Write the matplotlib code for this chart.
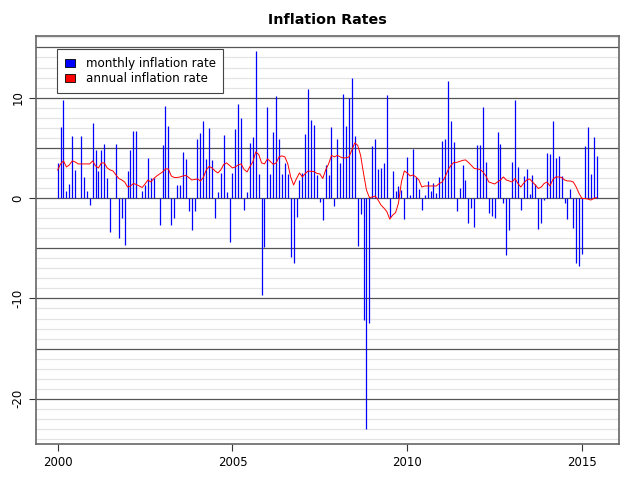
import numpy as np
import matplotlib
matplotlib.use("Agg")
import matplotlib.pyplot as plt
from matplotlib.patches import Patch

plt.rcParams['axes.unicode_minus'] = False

# monthly data, Jan 2000 .. Jun 2015
start_year = 2000
monthly = [
    3.5, 7.1, 9.8, 0.7, 1.4, 6.2, 2.8, 0.0, 6.2, 2.1, 0.7, -0.7,
    7.5, 4.75, 2.7, 4.75, 5.4, 2.0, -3.4, 0.0, 5.4, -4.0, -2.0, -4.7,
    2.7, 4.75, 6.7, 6.7, 0.0, 0.7, 1.3, 4.0, 1.95, 1.95, 0.0, -2.7,
    5.25, 9.2, 7.2, -2.65, -2.0, 1.3, 1.3, 4.55, 3.9, -1.3, -3.2, -1.3,
    5.85, 6.5, 7.7, 3.85, 7.0, 3.75, -1.95, 0.6, 2.5, 6.3, 0.6, -4.4,
    2.5, 6.9, 9.4, 8.0, -1.2, 0.6, 5.5, 6.1, 14.6, 2.4, -9.7, -4.85,
    9.1, 2.4, 6.6, 10.2, 5.9, 2.4, 3.5, 2.4, -5.9, -6.5, -1.85, 1.8,
    2.5, 6.4, 10.9, 7.8, 7.3, 2.3, -0.4, -2.2, 3.3, 2.3, 7.1, -0.8,
    5.9, 3.5, 10.4, 7.2, 10.0, 12.0, 6.2, -4.75, -1.6, -12.1, -23.0, -12.4,
    5.2, 5.9, 2.9, 3.0, 3.5, 10.3, -1.85, 2.7, 0.75, 1.2, 0.8, -2.1,
    4.05, 0.3, 4.9, 2.1, 0.9, -1.2, 0.3, 1.65, 0.7, 1.5, 0.5, 2.1,
    5.7, 5.9, 11.65, 7.7, 5.6, -1.3, 1.05, 3.3, 1.8, -2.5, -1.0, -2.9,
    5.25, 5.25, 9.1, 3.6, -1.45, -1.8, -1.95, 6.6, 5.35, -0.45, -5.7, -3.2,
    3.55, 9.8, 3.1, -1.2, 2.2, 2.9, 0.45, 2.3, 1.4, -3.1, -2.45, -0.2,
    4.45, 4.4, 7.7, 3.95, 4.15, 2.2, -0.5, -2.05, 0.9, -3.0, -6.5, -6.8,
    -5.6, 5.2, 7.1, 2.4, 6.1, 4.2,
]
annual = [
    2.8, 3.4, 3.7, 3.1, 3.3, 3.7, 3.6, 3.4, 3.4, 3.4, 3.4, 3.4,
    3.7, 3.2, 3.0, 3.5, 3.5, 3.0, 2.8, 2.7, 2.3, 1.95, 1.8, 1.6,
    1.1, 1.2, 1.45, 1.35, 1.2, 1.05, 1.4, 1.8, 1.6, 1.95, 2.2, 2.4,
    2.6, 2.9, 2.9, 2.2, 2.05, 2.05, 2.1, 2.2, 2.25, 2.05, 1.8, 1.85,
    1.9, 1.7, 2.05, 2.8, 3.15, 3.0, 2.7, 2.5, 2.8, 3.35, 3.5, 3.25,
    3.0, 3.1, 3.3, 3.4, 2.85, 2.6, 3.15, 3.6, 4.6, 4.35, 3.5, 3.4,
    3.9, 3.65, 3.35, 3.5, 4.1, 4.2, 4.1, 3.4, 2.1, 1.3, 1.95, 2.5,
    2.1, 2.45, 2.7, 2.65, 2.65, 2.45, 2.4, 1.95, 2.8, 3.4, 4.25, 4.1,
    4.25, 4.1, 4.0, 4.0, 4.1, 4.8, 5.5, 5.25, 4.25, 2.45, 0.8, 0.05,
    0.1, 0.2, -0.2, -0.7, -1.0, -1.35, -2.1, -1.7, -1.45, -0.5, 1.6, 2.7,
    2.5, 2.2, 2.3, 2.1, 1.8, 1.1, 1.2, 1.2, 1.2, 1.2, 1.2, 1.45,
    1.6, 2.1, 2.8, 3.25, 3.55, 3.55, 3.65, 3.75, 3.8, 3.55, 3.25, 2.95,
    2.9, 2.85, 2.6, 2.2, 1.6, 1.5, 1.4, 1.6, 1.8, 2.1, 1.8, 1.7,
    1.6, 1.95, 1.45, 1.1, 1.5, 1.8, 1.9, 1.6, 1.3, 0.95, 1.1, 1.45,
    1.6, 1.2, 1.85, 2.1, 2.1, 2.05, 1.8, 1.7, 1.7, 1.6, 1.1, 0.45,
    -0.05, -0.05, -0.1, -0.2, -0.05, 0.05,
]

t = start_year + np.arange(len(monthly)) / 12.0
monthly = np.array(monthly)
annual = np.array(annual)

fig = plt.figure(figsize=(6.4, 4.8), dpi=100)
ax = fig.add_axes([0.05625, 0.0756, 0.9105, 0.85])

ax.set_xlim(1999.38, 2016.05)
ax.set_ylim(-24.47, 16.17)

# horizontal grid: light every unit, dark every 5
for y in range(-24, 17):
    if y % 5 == 0:
        ax.axhline(y, color='#555555', lw=0.9, zorder=1)
    else:
        ax.axhline(y, color='#e4e4e4', lw=0.9, zorder=0)

ax.vlines(t, 0, monthly, color='#0000ff', lw=0.9, zorder=2)
ax.plot(t, annual, color='#ff0000', lw=0.7, zorder=3)

ax.set_xticks([2000, 2005, 2010, 2015])
ax.set_yticks([-20, -10, 0, 10])
ax.tick_params(axis='both', direction='out', length=5, width=0.8,
               labelsize=8.5, color='#333333')
for lab in ax.get_yticklabels():
    lab.set_rotation(90)
    lab.set_va('center')
for s in ax.spines.values():
    s.set_color('#666666')
    s.set_linewidth(1.2)

ax.set_title('Inflation Rates', fontsize=10.3, fontweight='bold', pad=8.4)

handles = [Patch(facecolor='#0000ff', edgecolor='black', lw=0.6),
           Patch(facecolor='#ff0000', edgecolor='black', lw=0.6)]
leg = ax.legend(handles, ['monthly inflation rate', 'annual inflation rate'],
                loc='upper left', bbox_to_anchor=(0.0366, 0.967),
                fontsize=8.6, fancybox=False, framealpha=1,
                edgecolor='#444444', handlelength=0.8, handleheight=0.6,
                borderpad=0.65, labelspacing=0.2, handletextpad=0.92,
                borderaxespad=0)
leg.get_frame().set_linewidth(0.8)

fig.savefig('out.png', dpi=100)
